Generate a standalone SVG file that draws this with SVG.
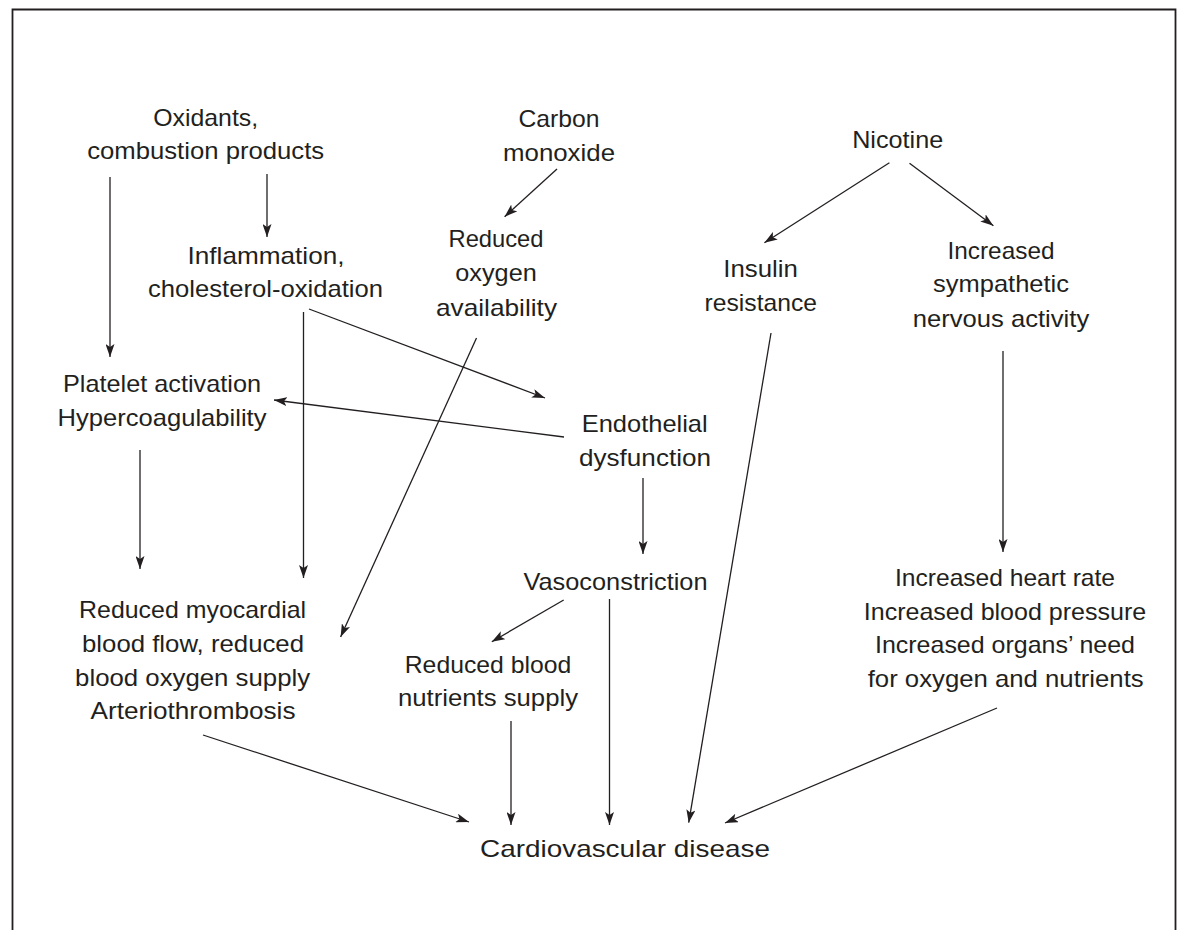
<svg xmlns="http://www.w3.org/2000/svg" width="1180" height="930" viewBox="0 0 1180 930">
<defs>
<style>
text{font-family:"Liberation Sans",Arial,sans-serif;font-size:24px;fill:#231f20;text-anchor:middle}
.c line{stroke:#231f20;stroke-width:1.3;marker-end:url(#ah)}
</style>
<marker id="ah" viewBox="0 0 13 9" markerWidth="13" markerHeight="9" refX="13" refY="4.5" orient="auto" markerUnits="userSpaceOnUse">
<path d="M0,0 L13,4.5 L0,9 L3,4.5 z" fill="#231f20"/>
</marker>
</defs>
<rect width="1180" height="930" fill="#fff"/>
<path d="M12.5,930 V9.5 H1175.5 V930" fill="none" stroke="#231f20" stroke-width="1.8"/>

<g id="oxidants">
<text x="205.7" y="126" textLength="105" lengthAdjust="spacingAndGlyphs">Oxidants,</text>
<text x="205.7" y="159" textLength="237" lengthAdjust="spacingAndGlyphs">combustion products</text>
</g>
<g id="carbon-monoxide">
<text x="559" y="127" textLength="81" lengthAdjust="spacingAndGlyphs">Carbon</text>
<text x="559" y="161" textLength="112" lengthAdjust="spacingAndGlyphs">monoxide</text>
</g>
<g id="nicotine">
<text x="897.7" y="148" textLength="91" lengthAdjust="spacingAndGlyphs">Nicotine</text>
</g>
<g id="inflammation">
<text x="266" y="264" textLength="157" lengthAdjust="spacingAndGlyphs">Inflammation,</text>
<text x="265.5" y="297" textLength="235" lengthAdjust="spacingAndGlyphs">cholesterol-oxidation</text>
</g>
<g id="reduced-oxygen">
<text x="496" y="247" textLength="95" lengthAdjust="spacingAndGlyphs">Reduced</text>
<text x="496" y="281" textLength="81.5" lengthAdjust="spacingAndGlyphs">oxygen</text>
<text x="496.5" y="315.7" textLength="121" lengthAdjust="spacingAndGlyphs">availability</text>
</g>
<g id="insulin">
<text x="760.6" y="276.7" textLength="74.6" lengthAdjust="spacingAndGlyphs">Insulin</text>
<text x="760.8" y="310.7" textLength="112.4" lengthAdjust="spacingAndGlyphs">resistance</text>
</g>
<g id="sympathetic">
<text x="1001" y="259" textLength="107" lengthAdjust="spacingAndGlyphs">Increased</text>
<text x="1001" y="292.3" textLength="136" lengthAdjust="spacingAndGlyphs">sympathetic</text>
<text x="1001" y="326.7" textLength="176.4" lengthAdjust="spacingAndGlyphs">nervous activity</text>
</g>
<g id="platelet">
<text x="162" y="392" textLength="198" lengthAdjust="spacingAndGlyphs">Platelet activation</text>
<text x="162" y="426" textLength="209" lengthAdjust="spacingAndGlyphs">Hypercoagulability</text>
</g>
<g id="endothelial">
<text x="644.7" y="432" textLength="126" lengthAdjust="spacingAndGlyphs">Endothelial</text>
<text x="645" y="466" textLength="132" lengthAdjust="spacingAndGlyphs">dysfunction</text>
</g>
<g id="vasoconstriction">
<text x="615.5" y="590" textLength="184" lengthAdjust="spacingAndGlyphs">Vasoconstriction</text>
</g>
<g id="myocardial">
<text x="192.6" y="618" textLength="227" lengthAdjust="spacingAndGlyphs">Reduced myocardial</text>
<text x="193" y="651.7" textLength="222" lengthAdjust="spacingAndGlyphs">blood flow, reduced</text>
<text x="192.6" y="686" textLength="235" lengthAdjust="spacingAndGlyphs">blood oxygen supply</text>
<text x="193" y="719" textLength="205" lengthAdjust="spacingAndGlyphs">Arteriothrombosis</text>
</g>
<g id="nutrients">
<text x="488" y="672.7" textLength="166.5" lengthAdjust="spacingAndGlyphs">Reduced blood</text>
<text x="488" y="706" textLength="180" lengthAdjust="spacingAndGlyphs">nutrients supply</text>
</g>
<g id="heart">
<text x="1005" y="586" textLength="220" lengthAdjust="spacingAndGlyphs">Increased heart rate</text>
<text x="1005" y="620" textLength="282.5" lengthAdjust="spacingAndGlyphs">Increased blood pressure</text>
<text x="1005" y="653" textLength="260" lengthAdjust="spacingAndGlyphs">Increased organs’ need</text>
<text x="1005.7" y="686.7" textLength="276" lengthAdjust="spacingAndGlyphs">for oxygen and nutrients</text>
</g>
<g id="cvd">
<text x="625" y="857" textLength="290" lengthAdjust="spacingAndGlyphs">Cardiovascular disease</text>
</g>

<g id="connectors" class="c">
<line x1="110" y1="177" x2="110" y2="357"/>
<line x1="267" y1="174" x2="267" y2="237"/>
<line x1="557" y1="169" x2="504.6" y2="216.7"/>
<line x1="889.4" y1="162.7" x2="764.4" y2="242.7"/>
<line x1="909.5" y1="163.3" x2="993.4" y2="225.7"/>
<line x1="309" y1="309" x2="545" y2="398"/>
<line x1="564" y1="437" x2="274" y2="400"/>
<line x1="303.5" y1="312" x2="303.5" y2="578"/>
<line x1="476.5" y1="338" x2="340.6" y2="637"/>
<line x1="140" y1="450" x2="140" y2="569"/>
<line x1="643" y1="478" x2="643" y2="554"/>
<line x1="1003" y1="351" x2="1003" y2="552"/>
<line x1="563.7" y1="600" x2="491.8" y2="641.7"/>
<line x1="203" y1="735" x2="469" y2="822"/>
<line x1="511" y1="721" x2="511" y2="825"/>
<line x1="609.5" y1="599" x2="609.5" y2="825"/>
<line x1="771" y1="333" x2="688.7" y2="822.7"/>
<line x1="997" y1="708" x2="725" y2="823"/>
</g>
</svg>
